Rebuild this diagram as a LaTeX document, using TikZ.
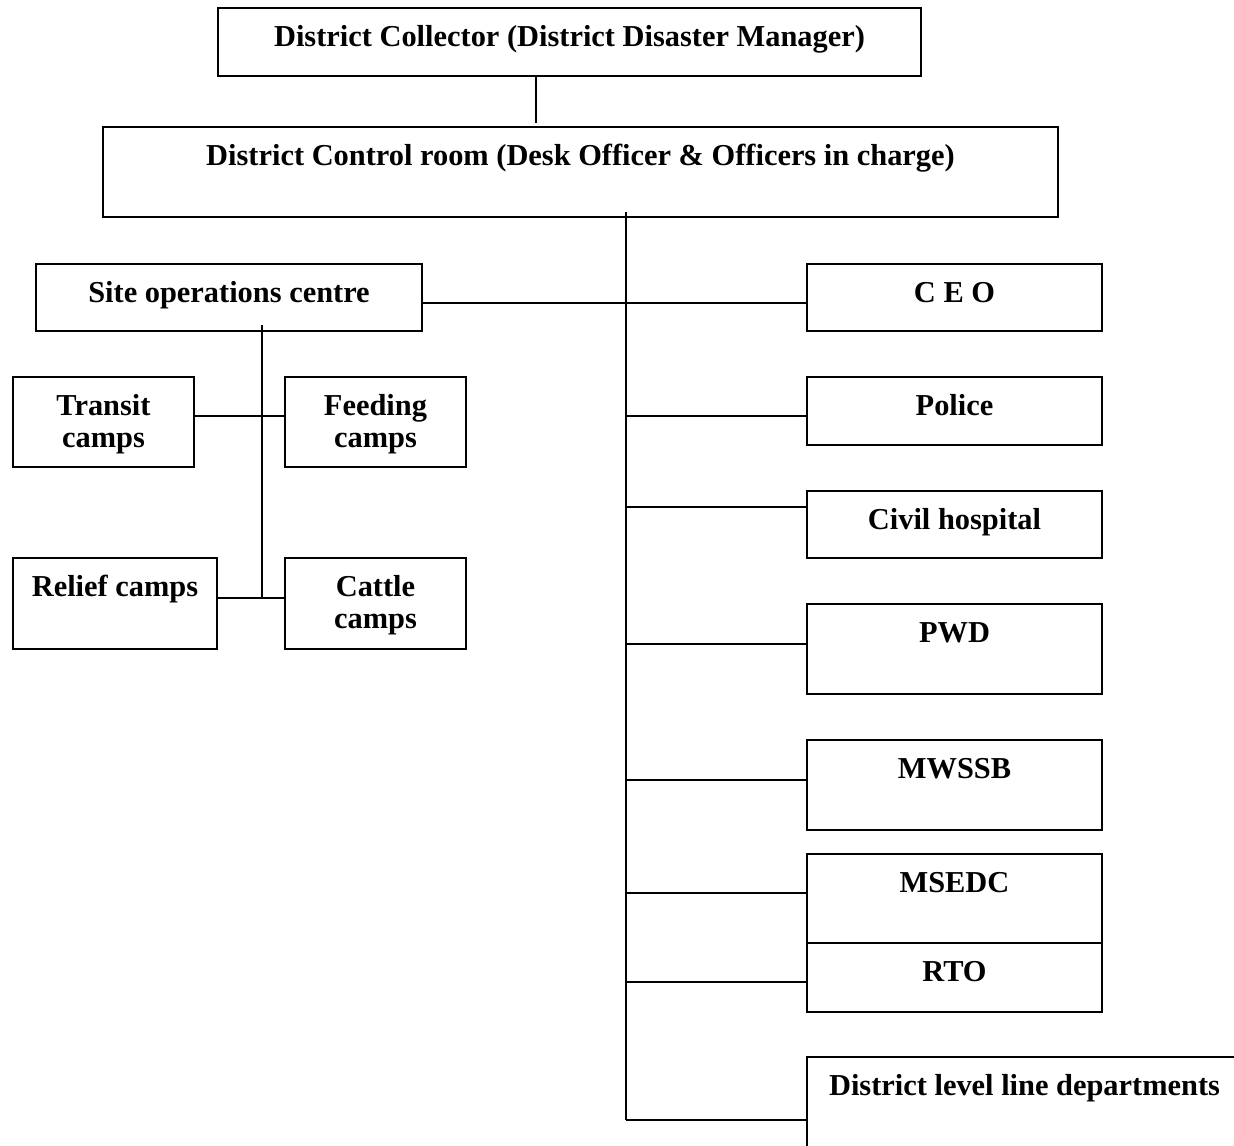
\documentclass[tikz,border=0pt]{standalone}
\usepackage{fontspec}
\setmainfont{Liberation Serif}

\begin{document}
\begin{tikzpicture}[line width=1pt]

        \useasboundingbox (0,0) rectangle (24.68,-22.92);

        % boxes
        \begin{scope}[every node/.style={draw, inner sep=0pt, line width=1pt}]
          \node[minimum width=14.06cm, minimum height=1.36cm] (dc)      at (11.39,-0.84)  {};
          \node[minimum width=19.10cm, minimum height=1.80cm] (dcr)     at (11.61,-3.44)  {};
          \node[minimum width=7.72cm,  minimum height=1.34cm] (soc)     at (4.58,-5.95)   {};
          \node[minimum width=3.62cm,  minimum height=1.80cm] (transit) at (2.07,-8.44)   {};
          \node[minimum width=3.62cm,  minimum height=1.80cm] (feeding) at (7.51,-8.44)   {};
          \node[minimum width=4.08cm,  minimum height=1.82cm] (relief)  at (2.30,-12.07)  {};
          \node[minimum width=3.62cm,  minimum height=1.82cm] (cattle)  at (7.51,-12.07)  {};
          \node[minimum width=5.90cm,  minimum height=1.34cm] (ceo)     at (19.09,-5.95)  {};
          \node[minimum width=5.90cm,  minimum height=1.36cm] (police)  at (19.09,-8.22)  {};
          \node[minimum width=5.90cm,  minimum height=1.34cm] (civil)   at (19.09,-10.49) {};
          \node[minimum width=5.90cm,  minimum height=1.80cm] (pwd)     at (19.09,-12.98) {};
          \node[minimum width=5.90cm,  minimum height=1.80cm] (mwssb)   at (19.09,-15.70) {};
          \node[minimum width=5.90cm,  minimum height=1.78cm] (msedc)   at (19.09,-17.97) {};
          \node[minimum width=5.90cm,  minimum height=1.38cm] (rto)     at (19.09,-19.55) {};
          \node[minimum width=8.70cm,  minimum height=2.06cm] (dld)     at (20.49,-22.17) {};
        \end{scope}

        % texts (base = last line, so two lines sit 0.65cm lower)
        \begin{scope}[every node/.style={anchor=base, align=center, inner sep=0pt,
            font=\bfseries\fontsize{17.3}{18.5}\selectfont}]
          \node (dc-t)      at ([yshift=-0.78cm]dc.north)      {District Collector (District Disaster Manager)};
          \node (dcr-t)     at ([yshift=-0.78cm]dcr.north)     {District Control room (Desk Officer \& Officers in charge)};
          \node (soc-t)     at ([yshift=-0.78cm]soc.north)     {Site operations centre};
          \node (transit-t) at ([yshift=-1.43cm]transit.north) {Transit\\camps};
          \node (feeding-t) at ([yshift=-1.43cm]feeding.north) {Feeding\\camps};
          \node (relief-t)  at ([yshift=-0.78cm]relief.north)  {Relief camps};
          \node (cattle-t)  at ([yshift=-1.43cm]cattle.north)  {Cattle\\camps};
          \node (ceo-t)     at ([yshift=-0.78cm]ceo.north)     {C E O};
          \node (police-t)  at ([yshift=-0.78cm]police.north)  {Police};
          \node (civil-t)   at ([yshift=-0.78cm]civil.north)   {Civil hospital};
          \node (pwd-t)     at ([yshift=-0.78cm]pwd.north)     {PWD};
          \node (mwssb-t)   at ([yshift=-0.78cm]mwssb.north)   {MWSSB};
          \node (msedc-t)   at ([yshift=-0.78cm]msedc.north)   {MSEDC};
          \node (rto-t)     at ([yshift=-0.78cm]rto.north)     {RTO};
          \node (dld-t)     at ([yshift=-0.78cm]dld.north)     {District level line departments};
        \end{scope}

        % connectors
        \coordinate (ctop) at (12.52,-4.24);
        \coordinate (cbot) at (12.52,-22.40);
        \coordinate (stop) at (5.24,-6.50);

        \draw ([xshift=-0.67cm]dc.south) -- ++(0,-0.92);
        \draw (ctop) -- (cbot);
        \draw (soc.east |- 0,-6.06) -- (ceo.west |- 0,-6.06);
        \foreach \n/\y in {police/-8.32, civil/-10.14, pwd/-12.88, mwssb/-15.60,
                           msedc/-17.86, rto/-19.64, dld/-22.40}
          \draw (ctop |- 0,\y) -- (\n.west |- 0,\y);

        \draw (stop) -- (stop |- 0,-11.96);
        \draw (transit.east |- 0,-8.32) -- (feeding.west |- 0,-8.32);
        \draw (relief.east |- 0,-11.96) -- (cattle.west |- 0,-11.96);

      \end{tikzpicture}
\end{document}
